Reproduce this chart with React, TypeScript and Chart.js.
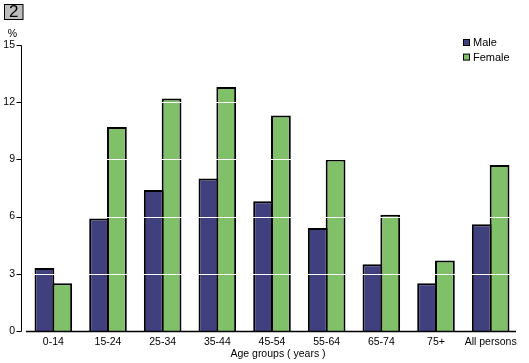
import React, { useEffect, useRef } from "react";
import { Chart, registerables } from "chart.js";

Chart.register(...registerables);

const categories = ["0-14", "15-24", "25-34", "35-44", "45-54", "55-64", "65-74", "75+", "All persons"];
const maleValues = [3.3, 5.9, 7.4, 8.0, 6.8, 5.4, 3.5, 2.5, 5.6];
const femaleValues = [2.5, 10.7, 12.2, 12.8, 11.3, 9.0, 6.1, 3.7, 8.7];
const yTicks = [0, 3, 6, 9, 12, 15];
const seriesNames = ["Male", "Female"];
const seriesColors = ["#40407f", "#80c068"];
const panelNumber = "2";
const yUnit = "%";
const xTitle = "Age groups ( years )";

const FONT = "'Liberation Sans', Arial, sans-serif";

const overlay = {
  id: "overlay",
  afterDatasetsDraw(chart: any) {
    const { ctx, chartArea, scales } = chart;
    const y = scales.y;
    ctx.save();
    // white gridlines over bars
    ctx.strokeStyle = "#ffffff";
    ctx.lineWidth = 1;
    yTicks.forEach((v) => {
      if (v === 0 || v === 15) return;
      const py = Math.round(y.getPixelForValue(v)) + 0.5;
      ctx.beginPath();
      ctx.moveTo(chartArea.left, py);
      ctx.lineTo(chartArea.right, py);
      ctx.stroke();
    });
    // y axis line and ticks
    ctx.strokeStyle = "#000000";
    const ax = chartArea.left - 4.5;
    const top = Math.round(y.getPixelForValue(15)) + 0.5;
    const bot = Math.round(y.getPixelForValue(0)) + 0.5;
    ctx.beginPath();
    ctx.moveTo(ax, top);
    ctx.lineTo(ax, bot);
    ctx.stroke();
    yTicks.forEach((v) => {
      const py = Math.round(y.getPixelForValue(v)) + 0.5;
      ctx.beginPath();
      ctx.moveTo(ax - 5, py);
      ctx.lineTo(ax, py);
      ctx.stroke();
    });
    // x axis line
    ctx.beginPath();
    ctx.lineWidth = 1.5;
    ctx.moveTo(chartArea.left, bot);
    ctx.lineTo(chartArea.right - 2, bot);
    ctx.stroke();
    // unit label
    ctx.fillStyle = "#000000";
    ctx.font = `10.5px ${FONT}`;
    ctx.textAlign = "center";
    ctx.textBaseline = "middle";
    ctx.fillText(yUnit, 12.5, 34);
    // x title
    ctx.fillText(xTitle, 278, 354);
    // panel number box
    ctx.fillStyle = "#bdbdbd";
    ctx.fillRect(4, 4, 19, 15);
    ctx.lineWidth = 1;
    ctx.strokeRect(4.5, 4.5, 18.5, 15);
    ctx.fillStyle = "#000000";
    ctx.font = `17px ${FONT}`;
    ctx.fillText(panelNumber, 13.8, 12.5);
    // legend
    ctx.font = `11px ${FONT}`;
    ctx.textAlign = "left";
    seriesNames.forEach((name, i) => {
      const cy = 42.5 + i * 14.6;
      ctx.fillStyle = seriesColors[i];
      ctx.fillRect(463.5, cy - 3, 6, 6);
      ctx.strokeStyle = "#000000";
      ctx.lineWidth = 1;
      ctx.strokeRect(463.5, cy - 3, 6, 6);
      ctx.fillStyle = "#000000";
      ctx.fillText(name, 473, cy + 0.5);
    });
    ctx.restore();
  },
};

export default function App() {
  const ref = useRef<HTMLCanvasElement | null>(null);
  useEffect(() => {
    if (!ref.current) return;
    const chart = new Chart(ref.current, {
      type: "bar",
      data: {
        labels: categories,
        datasets: [
          {
            label: seriesNames[0],
            data: maleValues,
            backgroundColor: seriesColors[0],
            borderColor: "#000000",
            borderWidth: 2,
            borderSkipped: "bottom",
            categoryPercentage: 0.652,
            barPercentage: 1.11,
          },
          {
            label: seriesNames[1],
            data: femaleValues,
            backgroundColor: seriesColors[1],
            borderColor: "#000000",
            borderWidth: 2,
            borderSkipped: "bottom",
            categoryPercentage: 0.652,
            barPercentage: 1.11,
          },
        ],
      },
      plugins: [overlay],
      options: {
        responsive: false,
        animation: false,
        devicePixelRatio: 1,
        layout: { padding: { top: 45, right: 11, left: 0, bottom: 0 } },
        plugins: { legend: { display: false }, tooltip: { enabled: false } },
        scales: {
          x: {
            grid: { display: false, drawTicks: false },
            border: { display: false },
            ticks: {
              color: "#000000",
              font: { family: FONT, size: 10.5 },
              padding: 5,
              maxRotation: 0,
              autoSkip: false,
            },
            afterFit: (s: any) => {
              s.height = 32;
            },
          },
          y: {
            min: 0,
            max: 15,
            grid: { display: false, drawTicks: false },
            border: { display: false },
            ticks: {
              stepSize: 3,
              color: "#000000",
              font: { family: FONT, size: 10.5 },
              padding: 11,
            },
            afterFit: (s: any) => {
              s.width = 26;
            },
          },
        },
      },
    });
    return () => chart.destroy();
  }, []);
  return (
    <div style={{ position: "fixed", left: 0, top: 0, width: 529, height: 363, background: "#fff" }}>
      <canvas ref={ref} width={529} height={363} style={{ display: "block" }} />
    </div>
  );
}
